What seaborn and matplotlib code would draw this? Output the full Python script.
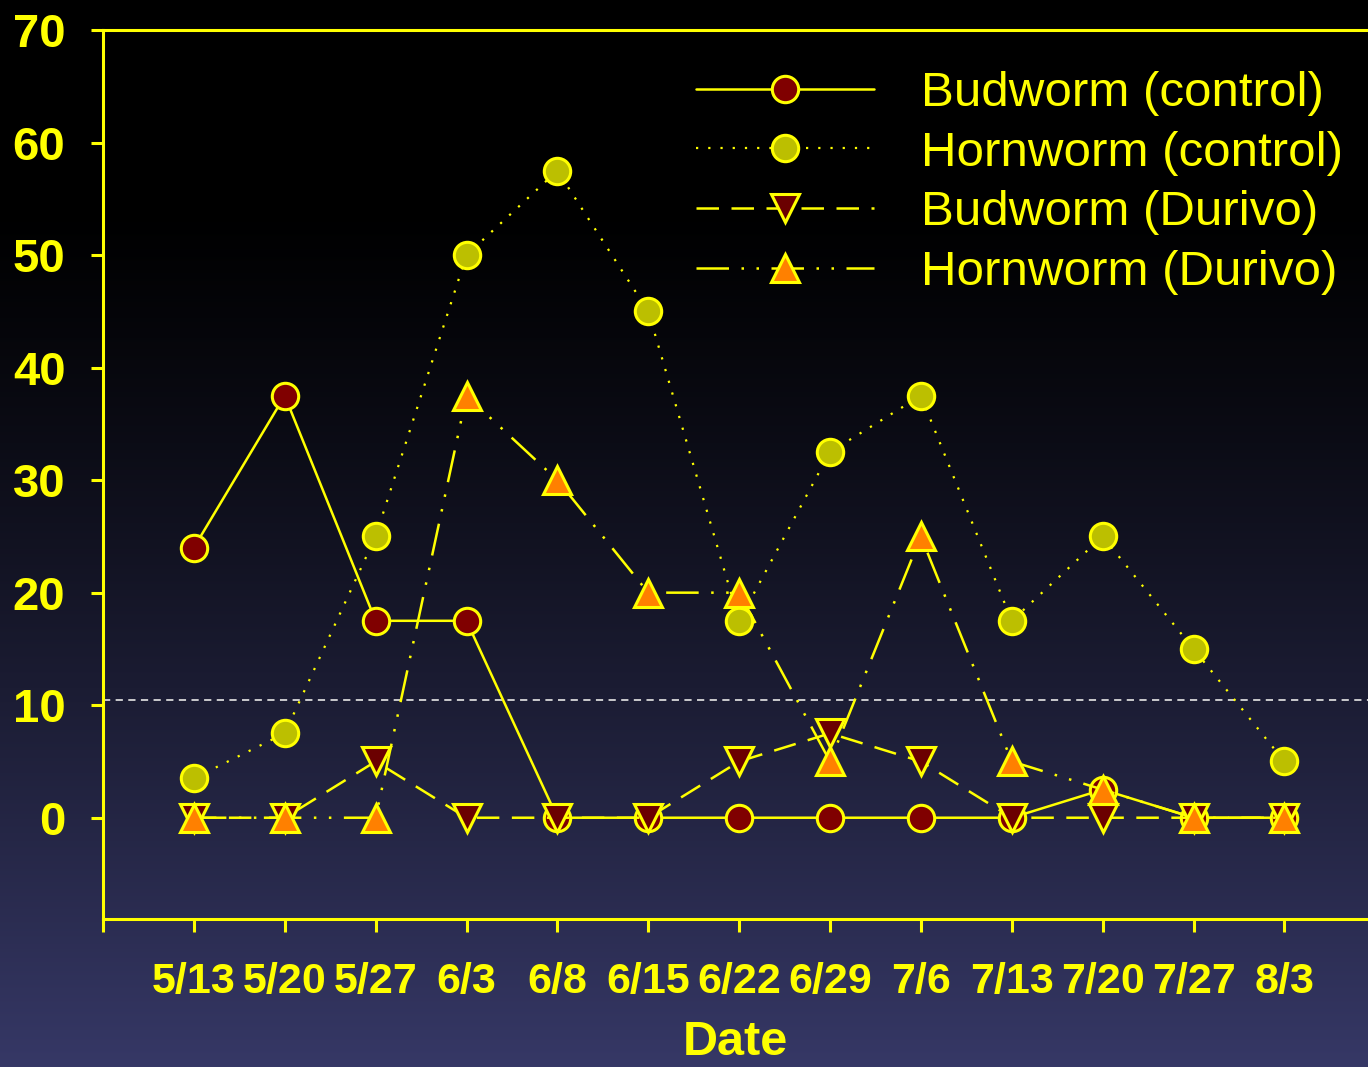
import numpy as np
import pandas as pd
import matplotlib
matplotlib.use("Agg")
import matplotlib.pyplot as plt
import seaborn as sns

# Data
dates = ["5/13", "5/20", "5/27", "6/3", "6/8", "6/15", "6/22",
         "6/29", "7/6", "7/13", "7/20", "7/27", "8/3"]
budworm_control = [24, 37.5, 17.5, 17.5, 0, 0, 0, 0, 0, 0, 2.5, 0, 0]
hornworm_control = [3.5, 7.5, 25, 50, 57.5, 45, 17.5, 32.5, 37.5, 17.5, 25, 15, 5]
budworm_durivo = [0, 0, 5, 0, 0, 0, 5, 7.5, 5, 0, 0, 0, 0]
hornworm_durivo = [0, 0, 0, 37.5, 30, 20, 20, 5, 25, 5, 2.5, 0, 0]
threshold = 10.5

sns.set_style("ticks")
plt.rcParams["font.family"] = ["Liberation Sans", "DejaVu Sans"]

yellow = "#ffff00"

df = pd.DataFrame({"x": np.arange(len(dates))})

fig = plt.figure(figsize=(13.68, 10.67), dpi=100)

# Gradient background (black at top to dark blue at bottom)
bg = fig.add_axes([0, 0, 1, 1], zorder=-10)
h = 400
t = np.clip((np.linspace(0, 1, h) - 0.19) / 0.81, 0, 1) ** 1.2
bottom_col = np.array([54, 56, 102]) / 255
grad = t[:, None, None] * bottom_col[None, None, :]
grad = np.repeat(grad, 2, axis=1)
bg.imshow(grad, aspect="auto", extent=[0, 1, 0, 1], origin="upper")
bg.set_axis_off()

ax = fig.add_axes([103 / 1368, 1 - 919 / 1067, 1 - 103 / 1368, (919 - 30) / 1067])
ax.set_facecolor("none")

# dashed threshold line
ax.axhline(threshold, color="#d8d8d8", lw=1.3, linestyle=(0, (4, 3)), zorder=1)

series = [
    ("Budworm (control)", budworm_control, "o", "#800000", "-", 1.8),
    ("Hornworm (control)", hornworm_control, "o", "#bcbf00", (0, (1, 4.5)), 1.6),
    ("Budworm (Durivo)", budworm_durivo, "v", "#6b0000", (0, (9, 5)), 1.8),
    ("Hornworm (Durivo)", hornworm_durivo, "^", "#ff8000", (0, (13, 5, 1, 5, 1, 5)), 1.8),
]

for label, vals, mk, fc, ls, lw in series:
    d = df.assign(y=vals)
    sns.lineplot(data=d, x="x", y="y", ax=ax, color=yellow, lw=lw,
                 linestyle=ls, marker=mk, markersize=19 if mk == "o" else 20,
                 markerfacecolor=fc, markeredgecolor=yellow,
                 markeredgewidth=2.2, label=label)

ax.set_xlim(-1, 12.92)
ax.set_ylim(-9, 70)
ax.set_yticks(range(0, 71, 10))
ax.set_xticks(range(-1, 13))
ax.set_xticklabels([""] + dates)

for lab in ax.get_yticklabels():
    lab.set_fontweight("bold")
for lab in ax.get_xticklabels():
    lab.set_fontweight("bold")

ax.tick_params(axis="y", colors=yellow, labelsize=34, length=9, width=2.2, pad=18)
ax.tick_params(axis="x", colors=yellow, labelsize=31, length=9, width=2.2, pad=22)

for side in ["left", "bottom", "top"]:
    ax.spines[side].set_color(yellow)
    ax.spines[side].set_linewidth(2.2)
ax.spines["right"].set_visible(False)

ax.set_xlabel("Date", color=yellow, fontsize=35, fontweight="bold", labelpad=13)
ax.set_ylabel("")

leg = ax.legend(loc="upper right", bbox_to_anchor=(1.015, 1.004), frameon=False,
                fontsize=35.5, handlelength=3.6, handletextpad=0.95,
                labelspacing=0.3, markerscale=1.0)
for txt in leg.get_texts():
    txt.set_color(yellow)

fig.savefig("out.png", dpi=100)
